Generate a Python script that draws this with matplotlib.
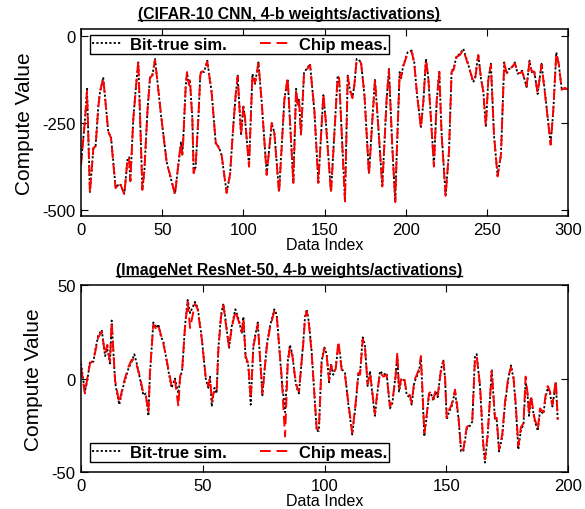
import matplotlib
matplotlib.use('Agg')
import matplotlib.pyplot as plt
from matplotlib.lines import Line2D

plt.rcParams['font.family'] = ['Liberation Sans', 'DejaVu Sans']
plt.rcParams['axes.unicode_minus'] = False

# ---- CIFAR-10 CNN (top) : vertices ----
cifar_idx = [0, 2.5, 3.7, 5.5, 7.6, 9, 10.7, 11.7, 13.7, 16.8, 18.5, 21.3, 24, 26.7, 28.7, 29.6,
             30.4, 32.2, 33.9, 35.3, 37.8, 39, 41, 42.5, 44, 45.6, 49.3, 52.8, 54.8, 57.9, 60.4, 61.6,
             62.4, 63, 64.5, 65.3, 66.5, 67.1, 68.6, 69.4, 70.6, 72.3, 73.5, 74.3, 75.8, 77.8, 80.5, 83,
             85, 86.6, 89.7, 91.8, 93.8, 95.3, 96.5, 98.6, 100, 101, 103.5, 105.6, 107.2, 109.3, 111.3, 114.4,
             117.5, 119.1, 122, 125.3, 127.3, 130.8, 132.5, 133.5, 134.3, 135.5, 137.4, 139, 141.1, 143.8, 146.2, 149.3,
             150.7, 154, 158.1, 159, 162.6, 164.3, 165.7, 167.2, 168.4, 169.8, 172.5, 174.6, 177.4, 179.5, 181.1, 183.2,
             185.6, 188.3, 189.7, 191.8, 193.6, 194.4, 196.3, 197.1, 198.5, 201.2, 203.7, 205.3, 207, 209.4, 210.9, 212.5,
             213.9, 215.6, 217.4, 219.1, 220.7, 222.1, 224.6, 226.7, 228.3, 229.5, 231.4, 233.4, 235.5, 238.2, 241.6, 242.7,
             244.7, 246.4, 247.8, 249.4, 250.9, 252.5, 254.4, 256.6, 258.7, 260.7, 262.2, 263.6, 265.3, 267.3, 269, 270.4,
             271.8, 274.5, 276.3, 277.6, 279.2, 281.3, 283.7, 285.8, 289.3, 290.9, 292.8, 294.4, 296.1, 298.1, 300]
cifar_sim = [-368, -238, -152, -449, -325, -315, -200, -162, -119, -277, -291, -435, -425, -454, -353, -349,
             -420, -238, -143, -76, -440, -392, -210, -119, -114, -66, -229, -363, -401, -454, -353, -306,
             -344, -296, -143, -107, -138, -128, -238, -392, -377, -238, -109, -100, -104, -71, -162, -310,
             -320, -344, -449, -401, -258, -171, -114, -286, -200, -238, -373, -109, -138, -76, -191, -397,
             -253, -277, -449, -181, -124, -420, -152, -200, -181, -286, -104, -95, -80, -219, -420, -170,
             -238, -449, -114, -124, -473, -114, -157, -176, -143, -66, -74, -171, -397, -238, -124, -267,
             -430, -181, -95, -325, -475, -353, -104, -124, -85, -47, -42, -76, -171, -262, -191, -66,
             -119, -238, -373, -191, -100, -277, -457, -334, -100, -95, -57, -52, -37, -76, -133, -124,
             -52, -124, -157, -262, -124, -80, -286, -401, -344, -76, -109, -95, -93, -76, -109, -104,
             -100, -147, -71, -104, -100, -167, -80, -162, -310, -219, -47, -85, -152, -152, -152]
cifar_chip = [-372, -240, -158, -452, -322, -318, -203, -160, -122, -275, -294, -438, -422, -457, -350, -352,
              -418, -241, -146, -72, -443, -389, -213, -122, -111, -69, -226, -366, -398, -457, -350, -309,
              -341, -299, -146, -104, -141, -125, -241, -395, -374, -235, -112, -103, -101, -74, -165, -307,
              -323, -341, -452, -398, -261, -168, -117, -283, -203, -235, -376, -112, -135, -79, -188, -400,
              -250, -280, -452, -184, -121, -423, -155, -197, -184, -283, -107, -98, -83, -216, -423, -167,
              -241, -452, -117, -121, -476, -117, -154, -179, -140, -69, -77, -168, -400, -241, -127, -264,
              -433, -178, -98, -322, -478, -350, -107, -121, -88, -50, -45, -79, -168, -265, -188, -69,
              -116, -241, -376, -188, -103, -280, -460, -331, -103, -98, -60, -55, -40, -79, -130, -127,
              -55, -121, -160, -259, -127, -83, -283, -404, -341, -79, -106, -98, -90, -79, -106, -107,
              -103, -144, -74, -101, -103, -164, -83, -165, -313, -216, -50, -82, -155, -149, -155]

# ---- ImageNet ResNet-50 (bottom) ----
resnet_idx = [0, 1.6, 2.7, 3.7, 5.1, 5.8, 7.1, 8.5, 9.9, 10.8, 11.9, 12.6, 14, 15.7, 17.4, 19.4,
              20.8, 21.9, 22.9, 24.2, 25.6, 26.6, 27.7, 28.3, 29.7, 31.1, 31.8, 32.9, 33.8, 35.9, 37.2, 38.6,
              40, 40.7, 41.6, 42.7, 43.8, 44.8, 46.8, 47.9, 49.6, 51.2, 52.3, 53, 53.7, 54.8, 55.7, 56.4,
              57.5, 58.5, 59.4, 60.8, 61.9, 63.4, 64.9, 66, 66.7, 67.6, 68.7, 69.7, 70.8, 72.6, 74.5, 76.3,
              77.6, 79.4, 80.4, 82.4, 83.8, 84.9, 85.8, 86.8, 87.9, 88.6, 89.5, 91.3, 92, 92.7, 93.6, 94.7,
              96.8, 97.7, 98.8, 99.9, 100.9, 101.9, 102.7, 103.6, 104.6, 105.7, 106.4, 107.1, 108.4, 109.8, 111.4, 112.8,
              113.9, 114.6, 115.7, 116.6, 117.7, 118.7, 119.7, 120.7, 121.8, 122.8, 124.2, 125.5, 126.9, 127.9, 129.2, 129.9,
              130.6, 131.7, 132.8, 133.8, 135.1, 135.8, 136.9, 137.9, 138.8, 139.6, 141, 142, 142.9, 143.7, 144.7, 145.7,
              146.5, 147.7, 148.8, 149.5, 150.2, 151.1, 152.2, 153.6, 155, 156.1, 157, 158.4, 159.4, 160.7, 161.8, 162.5,
              163.9, 165.2, 165.9, 167, 168.7, 170, 170.7, 171.7, 173, 174.1, 175.5, 176.6, 177.6, 178.5, 179.6, 180.7,
              181.7, 182.6, 183.4, 184, 184.8, 186.2, 187.6, 188.5, 189.9, 190.8, 191.7, 192.6, 193.6, 195, 195.8]
resnet_sim = [8, -7, 0, 9, 9, 15, 23, 26, 12, 16, 8, 31, -2, -14, -4, 5,
              9, 13, 8, 0, -9, -8, -20, 2, 30, 27, 29, 22, 20, 4, -5, 0,
              -8, 0, 5, 28, 42, 35, 41, 38, 22, 0, -5, 1, -15, -5, -8, 16,
              34, 40, 31, 16, 28, 37, 31, 24, 33, 11, 7, -14, 18, 30, -9, 18,
              28, 37, 34, 0, -18, 9, 18, 13, 0, -5, -8, 20, 33, 37, 30, 15,
              -28, -28, 9, 17, 13, -2, 8, 2, 6, 18, 13, 5, 3, -14, -30, -14,
              2, 3, 22, 18, -4, 4, -9, -20, -7, 4, 2, 3, -16, -13, 2, 12,
              -7, 0, -1, -9, -10, -14, -2, 1, 4, 11, -31, -20, -9, -8, -12, -7,
              -10, 4, 10, 0, -22, -18, -15, -7, -21, -39, -39, -27, -26, -23, 12, 13,
              -5, -36, -45, -31, 5, -22, -22, -39, -31, -14, 0, 7, 0, -14, -38, -27,
              -25, -2, -9, -20, -10, -22, -28, -17, -19, -10, -5, -8, -15, -2, -23]
resnet_chip = [6, -8, 1, 8, 10, 14, 22, 25, 13, 18, 9, 30, -1, -13, -3, 6,
               10, 10, 7, 1, -8, -9, -18, 3, 29, 26, 28, 23, 19, 5, -4, -1,
               -15, 1, 6, 27, 41, 27, 40, 37, 21, 1, -4, 0, -12, -6, -7, 15,
               33, 39, 30, 17, 27, 36, 30, 25, 32, 12, 8, -11, 17, 29, -8, 17,
               27, 36, 33, 1, -31, 8, 17, 12, 1, -4, -7, 19, 32, 36, 29, 14,
               -27, -27, 8, 16, 12, -1, 7, 3, 5, 20, 12, 4, 2, -13, -29, -13,
               3, 2, 21, 17, -3, 3, -8, -19, -6, 3, 1, 2, -15, -12, 1, 14,
               -6, 1, 0, -8, -9, -13, -1, 2, 5, 12, -29, -19, -8, -7, -11, -6,
               -9, 3, 9, 1, -21, -17, -14, -6, -20, -38, -38, -26, -25, -22, 11, 12,
               -4, -35, -43, -30, 4, -21, -21, -38, -30, -13, 1, 6, 1, -13, -36, -26,
               -24, 1, -8, -19, -9, -21, -27, -16, -18, -9, -4, -7, -14, -1, -22]

fig = plt.figure(figsize=(5.85, 5.10), dpi=100)
ax1 = fig.add_axes([81/585, 1-217/510, 487/585, 187/510])
ax2 = fig.add_axes([81/585, 1-473/510, 487/585, 187/510])

for ax, xs, sim, chip in [(ax1, cifar_idx, cifar_sim, cifar_chip), (ax2, resnet_idx, resnet_sim, resnet_chip)]:
    ax.plot(xs, sim, color='black', linestyle=(0, (1.2, 1.2)), linewidth=1.3, label='Bit-true sim.')
    ax.plot(xs, chip, color='red', linestyle=(0, (5.5, 3)), linewidth=1.4, label='Chip meas.')
    ax.tick_params(direction='in', top=True, right=True, length=5, labelsize=12, pad=4)
    for s in ax.spines.values():
        s.set_linewidth(1.1)
    ax.set_xlabel('Data Index', fontsize=11.5, labelpad=0)
    ax.set_ylabel('Compute Value', fontsize=15, labelpad=6)

ax1.set_xlim(0, 300)
ax1.set_ylim(-518, 20)
ax1.set_xticks([0, 50, 100, 150, 200, 250, 300])
ax1.set_yticks([0, -250, -500])
ax2.set_xlim(0, 200)
ax2.set_ylim(-50, 50)
ax2.set_xticks([0, 50, 100, 150, 200])
ax2.set_yticks([-50, 0, 50])

leg_kw = dict(ncol=2, frameon=True, fancybox=False, edgecolor='black', framealpha=1,
              prop={'weight': 'bold', 'size': 12}, handlelength=1.8, handletextpad=0.5,
              columnspacing=2.0, borderpad=0.12, borderaxespad=0)
l1 = ax1.legend(loc='upper left', bbox_to_anchor=(9/487, 1-6/187), **leg_kw)
l2 = ax2.legend(loc='lower left', bbox_to_anchor=(9/487, 10/187), **leg_kw)
for l in (l1, l2):
    l.get_frame().set_linewidth(1.0)

t1 = fig.text(289/585, 1-15/510, '(CIFAR-10 CNN, 4-b weights/activations)', ha='center', va='center',
              fontsize=11.3, fontweight='bold')
t2 = fig.text(289/585, 1-271/510, '(ImageNet ResNet-50, 4-b weights/activations)', ha='center', va='center',
              fontsize=11.3, fontweight='bold')

# underline the titles
fig.canvas.draw()
r = fig.canvas.get_renderer()
for t in (t1, t2):
    bb = t.get_window_extent(r).transformed(fig.transFigure.inverted())
    fig.add_artist(Line2D([bb.x0, bb.x1], [bb.y0 + 0.002, bb.y0 + 0.002], transform=fig.transFigure,
                          color='black', linewidth=1.0))

fig.savefig('out.png', dpi=100)
